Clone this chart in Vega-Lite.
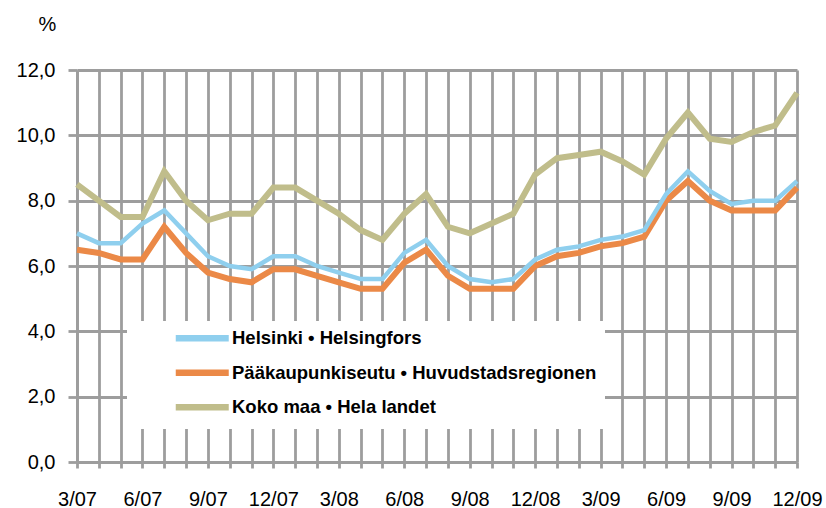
{
  "$schema": "https://vega.github.io/schema/vega-lite/v6.json",
  "autosize": {"type": "none"},
  "width": 720,
  "height": 392,
  "padding": {"left": 77, "top": 70, "right": 29, "bottom": 46},
  "background": "white",
  "config": {
    "font": "Liberation Sans",
    "view": {"stroke": null},
    "axis": {
      "gridColor": "#9d9d9d", "gridWidth": 2.8, "gridOpacity": 1,
      "domainColor": "#9d9d9d", "domainWidth": 2.8,
      "tickColor": "#9d9d9d", "tickWidth": 2.8,
      "labelColor": "#000000", "labelFontSize": 20, "labelFont": "Liberation Sans"
    }
  },
  "datasets": {
    "rows": [
      {"m":"3/07","s":"Helsinki • Helsingfors","v":7.0},
      {"m":"4/07","s":"Helsinki • Helsingfors","v":6.7},
      {"m":"5/07","s":"Helsinki • Helsingfors","v":6.7},
      {"m":"6/07","s":"Helsinki • Helsingfors","v":7.3},
      {"m":"7/07","s":"Helsinki • Helsingfors","v":7.7},
      {"m":"8/07","s":"Helsinki • Helsingfors","v":7.0},
      {"m":"9/07","s":"Helsinki • Helsingfors","v":6.3},
      {"m":"10/07","s":"Helsinki • Helsingfors","v":6.0},
      {"m":"11/07","s":"Helsinki • Helsingfors","v":5.9},
      {"m":"12/07","s":"Helsinki • Helsingfors","v":6.3},
      {"m":"1/08","s":"Helsinki • Helsingfors","v":6.3},
      {"m":"2/08","s":"Helsinki • Helsingfors","v":6.0},
      {"m":"3/08","s":"Helsinki • Helsingfors","v":5.8},
      {"m":"4/08","s":"Helsinki • Helsingfors","v":5.6},
      {"m":"5/08","s":"Helsinki • Helsingfors","v":5.6},
      {"m":"6/08","s":"Helsinki • Helsingfors","v":6.4},
      {"m":"7/08","s":"Helsinki • Helsingfors","v":6.8},
      {"m":"8/08","s":"Helsinki • Helsingfors","v":6.0},
      {"m":"9/08","s":"Helsinki • Helsingfors","v":5.6},
      {"m":"10/08","s":"Helsinki • Helsingfors","v":5.5},
      {"m":"11/08","s":"Helsinki • Helsingfors","v":5.6},
      {"m":"12/08","s":"Helsinki • Helsingfors","v":6.2},
      {"m":"1/09","s":"Helsinki • Helsingfors","v":6.5},
      {"m":"2/09","s":"Helsinki • Helsingfors","v":6.6},
      {"m":"3/09","s":"Helsinki • Helsingfors","v":6.8},
      {"m":"4/09","s":"Helsinki • Helsingfors","v":6.9},
      {"m":"5/09","s":"Helsinki • Helsingfors","v":7.1},
      {"m":"6/09","s":"Helsinki • Helsingfors","v":8.2},
      {"m":"7/09","s":"Helsinki • Helsingfors","v":8.9},
      {"m":"8/09","s":"Helsinki • Helsingfors","v":8.3},
      {"m":"9/09","s":"Helsinki • Helsingfors","v":7.9},
      {"m":"10/09","s":"Helsinki • Helsingfors","v":8.0},
      {"m":"11/09","s":"Helsinki • Helsingfors","v":8.0},
      {"m":"12/09","s":"Helsinki • Helsingfors","v":8.6},
      {"m":"3/07","s":"Pääkaupunkiseutu • Huvudstadsregionen","v":6.5},
      {"m":"4/07","s":"Pääkaupunkiseutu • Huvudstadsregionen","v":6.4},
      {"m":"5/07","s":"Pääkaupunkiseutu • Huvudstadsregionen","v":6.2},
      {"m":"6/07","s":"Pääkaupunkiseutu • Huvudstadsregionen","v":6.2},
      {"m":"7/07","s":"Pääkaupunkiseutu • Huvudstadsregionen","v":7.2},
      {"m":"8/07","s":"Pääkaupunkiseutu • Huvudstadsregionen","v":6.4},
      {"m":"9/07","s":"Pääkaupunkiseutu • Huvudstadsregionen","v":5.8},
      {"m":"10/07","s":"Pääkaupunkiseutu • Huvudstadsregionen","v":5.6},
      {"m":"11/07","s":"Pääkaupunkiseutu • Huvudstadsregionen","v":5.5},
      {"m":"12/07","s":"Pääkaupunkiseutu • Huvudstadsregionen","v":5.9},
      {"m":"1/08","s":"Pääkaupunkiseutu • Huvudstadsregionen","v":5.9},
      {"m":"2/08","s":"Pääkaupunkiseutu • Huvudstadsregionen","v":5.7},
      {"m":"3/08","s":"Pääkaupunkiseutu • Huvudstadsregionen","v":5.5},
      {"m":"4/08","s":"Pääkaupunkiseutu • Huvudstadsregionen","v":5.3},
      {"m":"5/08","s":"Pääkaupunkiseutu • Huvudstadsregionen","v":5.3},
      {"m":"6/08","s":"Pääkaupunkiseutu • Huvudstadsregionen","v":6.1},
      {"m":"7/08","s":"Pääkaupunkiseutu • Huvudstadsregionen","v":6.5},
      {"m":"8/08","s":"Pääkaupunkiseutu • Huvudstadsregionen","v":5.7},
      {"m":"9/08","s":"Pääkaupunkiseutu • Huvudstadsregionen","v":5.3},
      {"m":"10/08","s":"Pääkaupunkiseutu • Huvudstadsregionen","v":5.3},
      {"m":"11/08","s":"Pääkaupunkiseutu • Huvudstadsregionen","v":5.3},
      {"m":"12/08","s":"Pääkaupunkiseutu • Huvudstadsregionen","v":6.0},
      {"m":"1/09","s":"Pääkaupunkiseutu • Huvudstadsregionen","v":6.3},
      {"m":"2/09","s":"Pääkaupunkiseutu • Huvudstadsregionen","v":6.4},
      {"m":"3/09","s":"Pääkaupunkiseutu • Huvudstadsregionen","v":6.6},
      {"m":"4/09","s":"Pääkaupunkiseutu • Huvudstadsregionen","v":6.7},
      {"m":"5/09","s":"Pääkaupunkiseutu • Huvudstadsregionen","v":6.9},
      {"m":"6/09","s":"Pääkaupunkiseutu • Huvudstadsregionen","v":8.0},
      {"m":"7/09","s":"Pääkaupunkiseutu • Huvudstadsregionen","v":8.6},
      {"m":"8/09","s":"Pääkaupunkiseutu • Huvudstadsregionen","v":8.0},
      {"m":"9/09","s":"Pääkaupunkiseutu • Huvudstadsregionen","v":7.7},
      {"m":"10/09","s":"Pääkaupunkiseutu • Huvudstadsregionen","v":7.7},
      {"m":"11/09","s":"Pääkaupunkiseutu • Huvudstadsregionen","v":7.7},
      {"m":"12/09","s":"Pääkaupunkiseutu • Huvudstadsregionen","v":8.4},
      {"m":"3/07","s":"Koko maa • Hela landet","v":8.5},
      {"m":"4/07","s":"Koko maa • Hela landet","v":8.0},
      {"m":"5/07","s":"Koko maa • Hela landet","v":7.5},
      {"m":"6/07","s":"Koko maa • Hela landet","v":7.5},
      {"m":"7/07","s":"Koko maa • Hela landet","v":8.9},
      {"m":"8/07","s":"Koko maa • Hela landet","v":8.0},
      {"m":"9/07","s":"Koko maa • Hela landet","v":7.4},
      {"m":"10/07","s":"Koko maa • Hela landet","v":7.6},
      {"m":"11/07","s":"Koko maa • Hela landet","v":7.6},
      {"m":"12/07","s":"Koko maa • Hela landet","v":8.4},
      {"m":"1/08","s":"Koko maa • Hela landet","v":8.4},
      {"m":"2/08","s":"Koko maa • Hela landet","v":8.0},
      {"m":"3/08","s":"Koko maa • Hela landet","v":7.6},
      {"m":"4/08","s":"Koko maa • Hela landet","v":7.1},
      {"m":"5/08","s":"Koko maa • Hela landet","v":6.8},
      {"m":"6/08","s":"Koko maa • Hela landet","v":7.6},
      {"m":"7/08","s":"Koko maa • Hela landet","v":8.2},
      {"m":"8/08","s":"Koko maa • Hela landet","v":7.2},
      {"m":"9/08","s":"Koko maa • Hela landet","v":7.0},
      {"m":"10/08","s":"Koko maa • Hela landet","v":7.3},
      {"m":"11/08","s":"Koko maa • Hela landet","v":7.6},
      {"m":"12/08","s":"Koko maa • Hela landet","v":8.8},
      {"m":"1/09","s":"Koko maa • Hela landet","v":9.3},
      {"m":"2/09","s":"Koko maa • Hela landet","v":9.4},
      {"m":"3/09","s":"Koko maa • Hela landet","v":9.5},
      {"m":"4/09","s":"Koko maa • Hela landet","v":9.2},
      {"m":"5/09","s":"Koko maa • Hela landet","v":8.8},
      {"m":"6/09","s":"Koko maa • Hela landet","v":9.9},
      {"m":"7/09","s":"Koko maa • Hela landet","v":10.7},
      {"m":"8/09","s":"Koko maa • Hela landet","v":9.9},
      {"m":"9/09","s":"Koko maa • Hela landet","v":9.8},
      {"m":"10/09","s":"Koko maa • Hela landet","v":10.1},
      {"m":"11/09","s":"Koko maa • Hela landet","v":10.3},
      {"m":"12/09","s":"Koko maa • Hela landet","v":11.3}
    ]
  },
  "data": {"name": "rows"},
  "encoding": {
    "x": {
      "field": "m", "type": "ordinal", "sort": null,
      "scale": {"type": "point", "padding": 0},
      "axis": {
        "title": null, "labelAngle": 0, "labelOverlap": false, "grid": true,
        "tickSize": 6, "labelPadding": 21,
        "labelExpr": "(+split(datum.value, '/')[0]) % 3 == 0 ? datum.value : ''"
      }
    },
    "y": {
      "field": "v", "type": "quantitative",
      "scale": {"domain": [0, 12], "nice": false, "zero": true},
      "axis": {
        "values": [0, 2, 4, 6, 8, 10, 12],
        "tickSize": 9, "labelPadding": 13,
        "labelExpr": "replace(format(datum.value, '.1f'), '.', ',')",
        "title": "%", "titleAngle": 0, "titleX": -30, "titleY": -46,
        "titleAlign": "center", "titleBaseline": "middle",
        "titleFontSize": 20, "titleFontWeight": "normal", "titleColor": "#000000"
      }
    },
    "color": {
      "field": "s", "type": "nominal",
      "scale": {
        "domain": ["Helsinki • Helsingfors", "Pääkaupunkiseutu • Huvudstadsregionen", "Koko maa • Hela landet"],
        "range": ["#8fcfee", "#eb8947", "#c0bd8b"]
      },
      "legend": {
        "title": null, "orient": "none", "legendX": 50, "legendY": 251,
        "fillColor": "white", "padding": 8, "symbolOffset": 36.5,
        "symbolType": "M-1,0H9.6", "symbolSize": 100, "symbolStrokeWidth": 6.5,
        "labelFontSize": 18.5, "labelFontWeight": "bold", "labelColor": "#000000",
        "labelFont": "Liberation Sans", "labelOffset": 42, "rowPadding": 7.5, "labelLimit": 0
      }
    }
  },
  "layer": [
    {"transform": [{"filter": "datum.s == 'Koko maa • Hela landet'"}], "mark": {"type": "line", "strokeWidth": 6}},
    {"transform": [{"filter": "datum.s == 'Pääkaupunkiseutu • Huvudstadsregionen'"}], "mark": {"type": "line", "strokeWidth": 6}},
    {"transform": [{"filter": "datum.s == 'Helsinki • Helsingfors'"}], "mark": {"type": "line", "strokeWidth": 4.5}}
  ]
}
